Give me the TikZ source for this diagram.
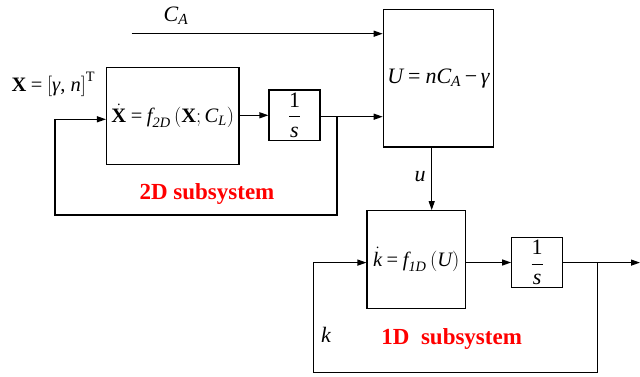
\RequirePackage{fix-cm}
\documentclass[tikz,border=0pt]{standalone}
\usepackage{amsmath}
\usepackage{fontspec}
\setmainfont{Liberation Serif}
\usetikzlibrary{arrows.meta}
\newcommand{\ti}[1]{\text{\itshape #1}}
\newcommand{\tb}[1]{\text{\bfseries #1}}
\newcommand{\teq}{\mathrel{\text{=}}}
\newcommand{\tminus}{\mathbin{\text{−}}}
\newcommand{\mspc}{\thickmuskip=4mu\relax\medmuskip=3mu\relax}
\begin{document}
\begin{tikzpicture}[x=1pt,y=-1pt,line width=1.2pt,
  blk/.style={draw,line width=1.2pt,inner sep=0pt,minimum width=#1},
  arr/.style={-{Triangle[length=9pt,width=6pt]}},
  mlab/.style={font=\fontsize{22}{24}\selectfont,inner sep=0pt},
  slab/.style={font=\fontsize{20.5}{23}\selectfont,inner sep=0pt},
  sublab/.style={font=\fontsize{23}{26}\selectfont\bfseries,text=red,inner sep=0pt}]
\useasboundingbox (0,0) rectangle (640,377);
% blocks
\node[blk=132.5pt,minimum height=97pt,slab] (f2) at (172.8,115.8) {$\mspc\dot{\tb{X}}\teq\ti{f}_{\ti{2D}}\left(\tb{X};\ti{C}_{\ti{L}}\right)$};
\node[blk=51pt,minimum height=50.7pt,mlab] (i1) at (294.5,115.3) {$\dfrac{\text{1}}{\ti{s}}$};
\node[blk=110.4pt,minimum height=137.3pt,mlab] (U) at (438.5,78.3) {$\mspc\ti{U}\teq\ti{nC}_{\ti{A}}\tminus\ti{γ}$};
\node[blk=98.3pt,minimum height=97.6pt,slab] (f1) at (416.2,259.5) {$\mspc\dot{\ti{k}}\teq\ti{f}_{\ti{1D}}\left(\ti{U}\right)$};
\node[blk=51pt,minimum height=50.4pt,mlab] (i2) at (537.2,262.5) {$\dfrac{\text{1}}{\ti{s}}$};
% labels
\node[mlab] (ca) at (176,16) {$\ti{C}_{\ti{A}}$};
\node[slab,anchor=west] (xl) at (11,84) {$\mspc\tb{X}\teq\left[\ti{γ}\text{, }\ti{n}\right]^{\text{T}}$};
\node[mlab] (ul) at (420,177) {$\ti{u}$};
\node[mlab] (kl) at (326,335) {$\ti{k}$};
\node[sublab] (s2) at (207,194) {2D subsystem};
\node[sublab] (s1) at (451.7,339) {1D\ \ subsystem};
% coordinates
\coordinate (cas) at (131.7,33.7);
\coordinate (b1) at (337,116.7);
\coordinate (fb1) at (55,119.3);
\coordinate (ux) at (431.7,0);
\coordinate (b2) at (597.3,262.6);
\coordinate (fb2) at (313.7,262.6);
\coordinate (out) at (640,262.6);
% connectors
\draw[arr] (cas) -- (cas -| U.west);
\draw[arr] (f2.east |- i1.west) -- (i1.west);
\draw[arr] (i1.east |- b1) -- (b1 -| U.west);
\draw[arr] (b1) -- (b1 |- 0,215) -- (fb1 |- 0,215) -- (fb1) -- (fb1 -| f2.west);
\draw[arr] (U.south -| ux) -- (f1.north -| ux);
\draw[arr] (f1.east |- i2.west) -- (i2.west);
\draw[arr] (i2.east |- out) -- (out);
\draw[arr] (b2) -- (b2 |- 0,372.7) -- (fb2 |- 0,372.7) -- (fb2) -- (fb2 -| f1.west);
\end{tikzpicture}
\end{document}
